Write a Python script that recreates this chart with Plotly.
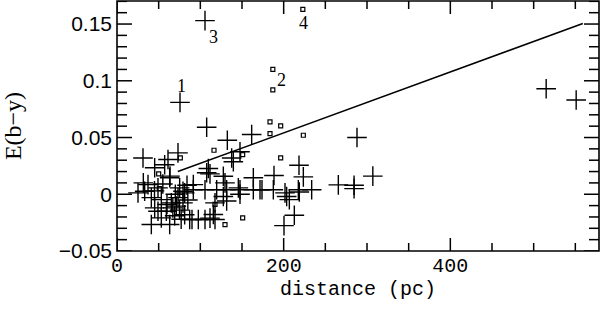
import plotly.graph_objects as go

# plus markers (distance pc, E(b-y))
plus_x = [105.6, 75.6, 515, 551, 288, 307, 284.5, 284.5, 265.6,
          218.4, 223.6, 188.4, 174, 187.6, 201.6, 203.6, 206.8, 218.8, 233.6, 212.8, 200.4, 163.6, 145.6,
          107.6, 132.4, 161.6, 147.6, 137.6, 139.6, 109.6, 127.6, 111.6,
          91.6, 105.6, 119.6, 131.6, 147.6, 163.6,
          129.6, 127.6, 147.6, 91.6, 117.6, 131.6, 115.6,
          90, 97.6, 105.6, 117.6, 107.6,
          31.2, 61.2, 73.2, 45.2, 57.2, 63.2, 37.2, 33.2, 79.2, 41.2, 53.2, 45.2, 59.2, 65.2, 73.2,
          81.2, 41.2, 63.2, 87.2, 69.2, 71.2, 75.2, 81.2, 79.2, 49.2, 53.2, 49.2, 25.2, 31.6, 63.6,
          67, 75, 70, 85, 77, 60, 55, 45, 84, 111.6, 171.6, 217.6]
plus_y = [0.153, 0.081, 0.093, 0.083, 0.050, 0.016, 0.005, 0.008, 0.0083,
          0.0256, 0.0153, 0.0165, 0.004, 0.004, 0.0012, -0.002, -0.0047, 0.002, 0.004, -0.0185, -0.0276, 0.0145, 0.0056,
          0.059, 0.0476, 0.0526, 0.0374, 0.032, 0.0286, 0.0227, 0.0159, 0.018,
          0.004, 0.004, 0.004, 0.004, 0.004, 0.004,
          0.010, -0.002, 0.0, 0.0085, -0.0076, -0.006, -0.0179,
          -0.0223, -0.0223, -0.0223, -0.0223, 0.019,
          0.032, 0.0306, 0.0365, 0.0233, 0.026, 0.0145, 0.0085, 0.0027, 0.0027, -0.003, -0.0047, -0.012, -0.015, -0.0076, -0.003,
          -0.018, -0.0267, -0.0267, -0.0223, -0.019, -0.0105, 0.0056, 0.0012, -0.0076, -0.015, -0.0208, 0.0056, 0.0012, 0.010, 0.016,
          -0.012, -0.014, 0.0, -0.005, -0.022, -0.009, 0.009, 0.003, 0.008, -0.021, 0.004, 0.004]

# open square markers
sq_x = [223, 187, 187, 183.6, 196.4, 183.6, 223.6, 196.4, 116.4, 150.8, 117.6, 129.6, 150.8, 76, 50, 50.8]
sq_y = [0.163, 0.110, 0.092, 0.0638, 0.0603, 0.0535, 0.052, 0.032, 0.0388, 0.035, -0.009, -0.0267, -0.0208, 0.032, 0.018, 0.005]

# fitted line
line_x = [73, 559]
line_y = [0.020, 0.1505]

# numbered labels
label_text = ["1", "2", "3", "4"]
label_x = [76.8, 196.8, 115.2, 223.2]
label_y = [0.095, 0.101, 0.139, 0.1505]

x_range = [0, 578.4]
y_range = [-0.05, 0.1703]
x_major, x_minor = 200, 50
y_major, y_minor = 0.05, 0.01

W, H = 601, 313
M = dict(l=117, r=2, t=1, b=62)
plot_w = W - M["l"] - M["r"]
plot_h = H - M["t"] - M["b"]

fig = go.Figure()
fig.add_trace(go.Scatter(x=line_x, y=line_y, mode="lines",
                         line=dict(color="black", width=1.5), showlegend=False))
fig.add_trace(go.Scatter(x=plus_x, y=plus_y, mode="markers",
                         marker=dict(symbol="cross-thin-open", size=14, color="black",
                                     line=dict(color="black", width=1.4)),
                         showlegend=False))
fig.add_trace(go.Scatter(x=sq_x, y=sq_y, mode="markers",
                         marker=dict(symbol="square-open", size=4, color="black",
                                     line=dict(color="black", width=1.2)),
                         showlegend=False))

for t, x, y in zip(label_text, label_x, label_y):
    fig.add_annotation(x=x, y=y, text=t, showarrow=False,
                       font=dict(family="Liberation Serif", size=18, color="black"))

# frame
fig.add_shape(type="rect", xref="paper", yref="paper", x0=0, y0=0, x1=1, y1=1,
              line=dict(color="black", width=1.6), layer="above")

# inside ticks on all four sides (major + minor)
tick_line = dict(color="black", width=1.5)
n_x = int(x_range[1] // x_minor)
for i in range(n_x + 1):
    v = i * x_minor
    ln = (13 if i % round(x_major / x_minor) == 0 else 8) / plot_h
    fig.add_shape(type="line", xref="x", yref="paper", x0=v, x1=v, y0=0, y1=ln,
                  line=tick_line, layer="above")
    fig.add_shape(type="line", xref="x", yref="paper", x0=v, x1=v, y0=1, y1=1 - ln,
                  line=tick_line, layer="above")
k0 = round(y_range[0] / y_minor)
k1 = int(y_range[1] / y_minor)
for k in range(k0, k1 + 1):
    v = k * y_minor
    ln = (15 if k % round(y_major / y_minor) == 0 else 10) / plot_w
    fig.add_shape(type="line", xref="paper", yref="y", x0=0, x1=ln, y0=v, y1=v,
                  line=tick_line, layer="above")
    fig.add_shape(type="line", xref="paper", yref="y", x0=1, x1=1 - ln, y0=v, y1=v,
                  line=tick_line, layer="above")

fig.update_layout(
    width=W, height=H,
    margin=M,
    plot_bgcolor="white", paper_bgcolor="white",
    xaxis=dict(range=x_range, tickmode="linear", tick0=0, dtick=x_major, ticks="",
               showgrid=False, zeroline=False, showline=False, automargin=False,
               tickfont=dict(family="Liberation Mono", size=20, color="black"),
               title=dict(text="distance (pc)", standoff=2,
                          font=dict(family="Liberation Mono", size=20, color="black"))),
    yaxis=dict(range=y_range, tickmode="linear", tick0=0, dtick=y_major, ticks="",
               showgrid=False, zeroline=False, showline=False, automargin=False,
               ticklabelstandoff=4,
               tickfont=dict(family="Liberation Sans", size=21, color="black"),
               title=dict(text="E(b\u2212y)", standoff=30,
                          font=dict(family="Liberation Serif", size=24, color="black"))),
)

fig.write_html("out.html", config={"displayModeBar": False},
               post_script="document.body.style.margin='0';document.body.style.overflow='hidden';")
